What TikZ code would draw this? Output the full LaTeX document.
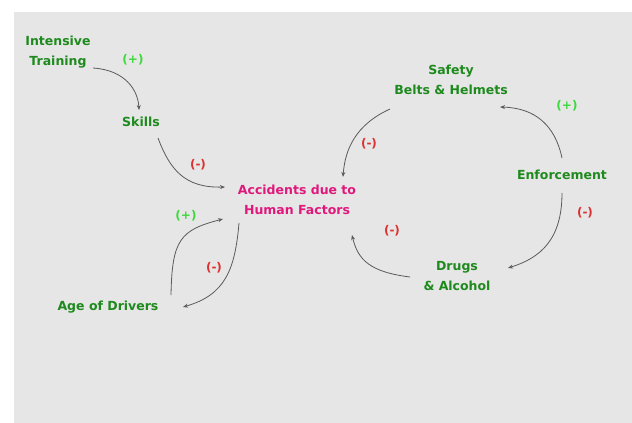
\documentclass[tikz,border=0pt]{standalone}
\usepackage{fontspec}
\setmainfont{DejaVu Sans}
\usetikzlibrary{arrows.meta}
\definecolor{bg}{HTML}{E6E6E6}
\definecolor{dkgreen}{HTML}{1E8A1E}
\definecolor{ltgreen}{HTML}{3CD83C}
\definecolor{pol}{HTML}{DD3030}
\definecolor{mag}{HTML}{E0187C}
\definecolor{arr}{HTML}{5A5A5A}
\tikzset{
  var/.style={text=dkgreen, font=\bfseries\fontsize{12.5}{20}\selectfont, align=center, inner sep=1pt},
  main/.style={text=mag, font=\bfseries\fontsize{12.5}{20}\selectfont, align=center, inner sep=1pt},
  plus/.style={text=ltgreen, font=\bfseries\fontsize{12}{14}\selectfont, inner sep=1pt},
  minus/.style={text=pol, font=\bfseries\fontsize{12}{14}\selectfont, inner sep=1pt},
  link/.style={draw=arr, line width=0.8pt, -{Stealth[length=5pt,width=4pt]}}
}
\begin{document}
\begin{tikzpicture}[x=1pt,y=-1pt]
\useasboundingbox (0,0) rectangle (632,423);
\fill[white] (0,0) rectangle (632,423);
\fill[bg] (14,12) rectangle (632,423);
% nodes
\node[var] (tr) at (58,52) {Intensive\\Training};
\node[var] (sk) at (141,122) {Skills};
\node[main] (acc) at (297,200) {Accidents due to\\Human Factors};
\node[var] (age) at (108,307) {Age of Drivers};
\node[var] (sb) at (451,80) {Safety\\Belts \& Helmets};
\node[var] (enf) at (562,175) {Enforcement};
\node[var] (dr) at (457,276) {Drugs\\\& Alcohol};
% polarity labels
\node[plus] (p1) at (133,60) {(+)};
\node[minus] (n1) at (198,165) {(-)};
\node[plus] (p2) at (186,216) {(+)};
\node[minus] (n2) at (214,268) {(-)};
\node[minus] (n3) at (369,144) {(-)};
\node[plus] (p3) at (567,106) {(+)};
\node[minus] (n4) at (585,213) {(-)};
\node[minus] (n5) at (392,231) {(-)};
% connectors
\draw[link] ([shift={(35,16)}]tr.center) .. controls (125,70) and (138,90) .. ([shift={(-2,-12)}]sk.center);
\draw[link] ([shift={(17,16)}]sk.center) .. controls (170,170) and (185,188) .. ([shift={(-72,-13)}]acc.center);
\draw[link] ([shift={(63,-12)}]age.center) .. controls (172,240) and (180,230) .. ([shift={(-74,19)}]acc.center);
\draw[link] ([shift={(-58,23)}]acc.center) .. controls (235,270) and (225,295) .. ([shift={(75,0)}]age.center);
\draw[link] ([shift={(-61,29)}]sb.center) .. controls (355,125) and (345,150) .. ([shift={(46,-23)}]acc.center);
\draw[link] ([shift={(0,-17)}]enf.center) .. controls (555,125) and (535,108) .. ([shift={(49,27)}]sb.center);
\draw[link] ([shift={(0,18)}]enf.center) .. controls (562,240) and (540,258) .. ([shift={(51,-8)}]dr.center);
\draw[link] ([shift={(-47,1)}]dr.center) .. controls (370,272) and (358,260) .. ([shift={(55,35)}]acc.center);
\end{tikzpicture}
\end{document}
